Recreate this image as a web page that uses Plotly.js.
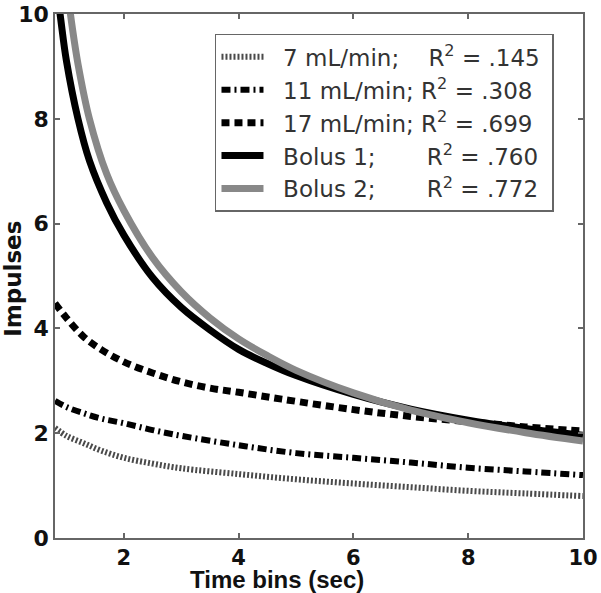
<!DOCTYPE html>
<html>
<head>
<meta charset="utf-8">
<script src="https://cdn.plot.ly/plotly-3.0.1.min.js"></script>
<style>
  body { margin: 0; background: #fff; }
  #plotArea { width: 601px; height: 593px; }
</style>
</head>
<body>
<div id="plotArea"></div>
<script>
// values (time bin in sec -> impulses)
var xSlow = [0.8, 1, 1.3, 1.6, 2, 2.5, 3, 4, 5, 6, 7, 8, 9, 10];
var y7 = [2.1, 1.95, 1.81, 1.67, 1.53, 1.42, 1.33, 1.22, 1.12, 1.04, 0.97, 0.9, 0.85, 0.8];
var y11 = [2.62, 2.5, 2.38, 2.28, 2.19, 2.06, 1.95, 1.77, 1.62, 1.53, 1.44, 1.34, 1.27, 1.2];

var x17 = [0.8, 1, 1.3, 1.6, 2, 2.5, 3, 3.5, 4, 4.75, 6, 7, 8, 9, 10];
var y17 = [4.48, 4.2, 3.84, 3.6, 3.36, 3.15, 2.98, 2.86, 2.78, 2.65, 2.45, 2.32, 2.22, 2.12, 2.04];

var xBolus1 = [0.8, 0.9, 1, 1.2, 1.4, 1.7, 2, 2.5, 3, 3.5, 4, 4.5, 5, 6, 7, 8, 9, 10];
var yBolus1 = [10.8, 9.9, 9.1, 8.0, 7.2, 6.4, 5.78, 4.97, 4.4, 3.97, 3.6, 3.33, 3.1, 2.74, 2.46, 2.25, 2.09, 1.96];

var xBolus2 = [1, 1.1, 1.2, 1.4, 1.7, 2, 2.5, 3, 3.5, 4, 4.5, 5, 6, 7, 8, 9, 10];
var yBolus2 = [10.6, 9.75, 9.05, 8.0, 6.95, 6.25, 5.35, 4.7, 4.2, 3.8, 3.48, 3.2, 2.77, 2.44, 2.2, 2.01, 1.85];

var sp = "\u00a0";
var names = [
    sp + sp + "7 mL/min;" + sp.repeat(4) + "R<sup>2</sup> = .145" + sp,
    sp + sp + "11 mL/min; R<sup>2</sup> = .308" + sp,
    sp + sp + "17 mL/min; R<sup>2</sup> = .699" + sp,
    sp + sp + "Bolus 1;" + sp.repeat(7) + "R<sup>2</sup> = .760" + sp,
    sp + sp + "Bolus 2;" + sp.repeat(7) + "R<sup>2</sup> = .772" + sp
];

function curve(x, y, name, color, width, dash) {
    return {
        x: x, y: y, name: name, type: "scatter", mode: "lines",
        line: {color: color, width: width, dash: dash, shape: "spline", smoothing: 1}
    };
}

var data = [
    curve(xSlow, y7, names[0], "#4a4a4a", 6, "2px,2px"),
    curve(xSlow, y11, names[1], "#000", 6, "9px,4px,2px,4px"),
    curve(x17, y17, names[2], "#000", 7, "8px,5px"),
    curve(xBolus1, yBolus1, names[3], "#000", 7, "solid"),
    curve(xBolus2, yBolus2, names[4], "#888", 7, "solid")
];

var axisStyle = {
    showline: true, mirror: "ticks", linecolor: "#666", linewidth: 1.5,
    ticks: "inside", ticklen: 5, tickcolor: "#666", tickwidth: 1.5,
    showgrid: false, zeroline: false,
    tickfont: {family: "DejaVu Sans", size: 22, color: "#111", weight: "bold"}
};

var layout = {
    width: 601, height: 593,
    margin: {l: 55, r: 18, t: 14, b: 55},
    paper_bgcolor: "#fff", plot_bgcolor: "#fff",
    showlegend: true,
    xaxis: Object.assign({range: [0.8, 10], tickvals: [2, 4, 6, 8, 10]}, axisStyle,
        {tickfont: {family: "DejaVu Sans", size: 21, color: "#111", weight: "bold"}}),
    yaxis: Object.assign({range: [0, 10], tickvals: [0, 2, 4, 6, 8, 10]}, axisStyle),
    legend: {
        x: 0.303, y: 0.962, xanchor: "left", yanchor: "top",
        bgcolor: "#fff", bordercolor: "#666", borderwidth: 1.5,
        itemwidth: 42, tracegroupgap: 0,
        font: {family: "DejaVu Sans", size: 23, color: "#333"}
    },
    annotations: [
        {text: "Time bins (sec)", xref: "paper", yref: "paper", x: 0.42, y: -0.08,
         xanchor: "center", yanchor: "middle", showarrow: false,
         font: {family: "Liberation Sans", size: 24, color: "#111", weight: "bold"}},
        {text: "Impulses", xref: "paper", yref: "paper", x: -0.081, y: 0.495,
         xanchor: "center", yanchor: "middle", showarrow: false, textangle: -90,
         font: {family: "DejaVu Sans", size: 23, color: "#111", weight: "bold"}}
    ]
};

Plotly.newPlot("plotArea", data, layout, {displayModeBar: false});
</script>
</body>
</html>
